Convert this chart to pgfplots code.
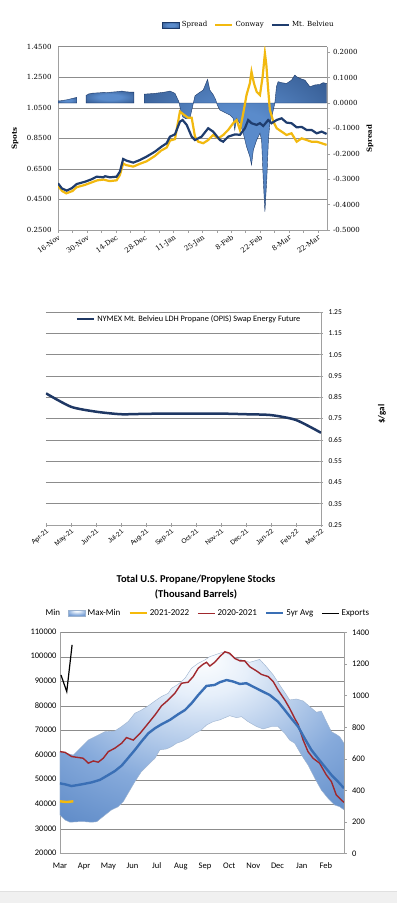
\documentclass[border=0pt]{standalone}
\usepackage{pgfplots}
\pgfplotsset{compat=1.18}
\usepackage{fontspec}
\setmainfont{Carlito}
\newfontfamily\serifchart{DejaVu Serif}
\newfontfamily\labelfont{Liberation Sans}

\definecolor{navy}{HTML}{1F3D6E}
\definecolor{conway}{HTML}{F2B90F}
\definecolor{spreaddark}{HTML}{1C3A6A}
\definecolor{spreadlight}{HTML}{5A8BCB}
\definecolor{gridgray}{HTML}{8C8C8C}
\definecolor{axisgray}{HTML}{A0A0A0}
\definecolor{futnavy}{HTML}{1F3864}
\definecolor{bandedge}{HTML}{9DB3CF}
\definecolor{bandlight}{HTML}{E6EFFA}
\definecolor{bandmid}{HTML}{86AADB}
\definecolor{banddark}{HTML}{3F72B8}
\definecolor{redline}{HTML}{A0282D}
\definecolor{avgblue}{HTML}{3A6FB5}
\definecolor{yellowline}{HTML}{F5BA0A}

\pgfdeclareradialshading{bandshading}{\pgfpoint{0bp}{24bp}}{color(0bp)=(white); color(8bp)=(bandlight); color(26bp)=(bandmid); color(50bp)=(banddark)}
\pgfdeclareradialshading{spreadshading}{\pgfpoint{0bp}{0bp}}{color(0bp)=(spreadlight); color(12bp)=(spreadlight); color(50bp)=(spreaddark)}

\pgfplotsset{
  topbase/.style={
    at={(58pt,673pt)}, anchor=south west, scale only axis,
    width=269pt, height=183.3pt, xmin=0, xmax=130.4,
    font=\serifchart\fontsize{7}{8}\selectfont,
    /pgf/number format/assume math mode=true,
  },
  botbase/.style={
    at={(60pt,49.3pt)}, anchor=south west, scale only axis,
    width=284pt, height=221.4pt, xmin=0, xmax=11.75,
    font=\fontsize{8.5}{10}\selectfont,
    /pgf/number format/assume math mode=true,
  },
}

\begin{document}
\begin{tikzpicture}[x=1pt,y=1pt]
\path[use as bounding box] (0,0) rectangle (397,903);
\fill[white] (0,0) rectangle (397,903);
\fill[black!6] (0,0) rectangle (397,11.3);
\draw[black!12,line width=0.5pt] (0,11.3) -- (397,11.3);

% ================= TOP CHART =================
\begin{axis}[topbase,
  ymin=0.25, ymax=1.45,
  ytick={0.25,0.45,0.65,0.85,1.05,1.25,1.45},
  yticklabel style={/pgf/number format/.cd,fixed,fixed zerofill,precision=4},
  ymajorgrids, grid style={gridgray,line width=0.5pt},
  axis x line*=bottom, axis y line*=left,
  axis line style={axisgray,line width=0.6pt},
  xtick={0,14,...,126},
  xticklabels={16-Nov,30-Nov,14-Dec,28-Dec,11-Jan,25-Jan,8-Feb,22-Feb,8-Mar,22-Mar},
  minor xtick={7,21,...,119},
  x tick label style={rotate=35,anchor=north east,inner sep=1pt},
  tick style={axisgray,line width=0.5pt}, tick align=outside,
  major tick length=3pt, minor tick length=3pt,
  ytick style={draw=none},
  ylabel={\bfseries Spots},
  ylabel style={at={(axis description cs:-0.16,0.5)},anchor=center},
]
\end{axis}

\begin{axis}[topbase,
  ymin=-0.5, ymax=0.2217,
  ytick={-0.5,-0.4,-0.3,-0.2,-0.1,0,0.1,0.2},
  yticklabel style={/pgf/number format/.cd,fixed,fixed zerofill,precision=4},
  axis y line*=right, axis x line=none,
  axis line style={axisgray,line width=0.6pt},
  tick style={axisgray,line width=0.5pt}, tick align=outside, major tick length=2.5pt,
  ylabel={\bfseries Spread},
  ylabel style={at={(axis description cs:1.16,0.5)},anchor=center},
]
\addplot[draw=spreaddark, line width=0.4pt, shade, shading=spreadshading, forget plot] coordinates {
(0,0) (0,0.008) (1.5,0.009) (3,0.011) (4.5,0.013) (6,0.016) (7.5,0.019) (9.1,0.022) (9.1,0)} -- cycle;
\addplot[draw=spreaddark, line width=0.4pt, shade, shading=spreadshading, forget plot] coordinates {
(13.6,0) (13.6,0.030) (15,0.036) (17,0.039) (20,0.040) (22,0.042) (24,0.041) (26,0.043) (28,0.044)
(30,0.046) (31,0.047) (33,0.044) (35,0.043) (36.8,0.043) (36.8,0)} -- cycle;
\addplot[draw=spreaddark, line width=0.4pt, shade, shading=spreadshading, forget plot] coordinates {
(41.8,0) (41.8,0.035) (44,0.036) (47,0.038) (50,0.041) (51.8,0.043) (54.3,0.047) (56.7,0.038)
(58.6,0.005) (59.5,-0.03) (60.5,-0.055) (62,-0.062) (63.95,-0.060) (65.6,-0.001) (66.4,0.028)
(68,0.038) (70.4,0.051) (71.7,0.077) (72.5,0.093) (73.6,0.051) (75.3,0.032) (76.5,0.012)
(77.2,-0.008) (78.5,-0.028) (80.1,-0.034) (81.7,-0.041) (83.3,-0.047) (84.9,-0.060) (85.7,-0.106)
(86.5,-0.060) (88.2,-0.080) (89.8,-0.119) (91.4,-0.172) (93,-0.211) (93.8,-0.244) (94.7,-0.185)
(96.3,-0.146) (97.9,-0.119) (98.7,-0.146) (99.5,-0.303) (100.3,-0.428) (101.2,-0.303) (102,-0.146)
(102.7,-0.080) (104,-0.041) (105.1,-0.001) (105.9,0.064) (106.7,0.084) (108.4,0.080) (110.8,0.077)
(113.2,0.090) (114.8,0.110) (115.6,0.104) (117.2,0.097) (119.7,0.090) (122.1,0.064) (124.5,0.071)
(126.9,0.073) (128.5,0.080) (130.2,0.077) (130.2,0)} -- cycle;
\end{axis}

\begin{axis}[topbase, ymin=0.25, ymax=1.45, hide axis,
  legend style={at={(axis description cs:0.71,1.118)}, anchor=center, draw=none, fill=none,
    legend columns=3, font=\serifchart\fontsize{7}{8}\selectfont,
    /tikz/every even column/.append style={column sep=5pt}},
]
\addlegendimage{area legend, draw=spreaddark, shade, shading=spreadshading}
\addlegendentry{Spread}
\addplot[conway, line width=2.2pt] coordinates {
(0,0.540) (2,0.505) (4,0.490) (7,0.505) (9,0.530) (13,0.545) (16,0.560) (19,0.575) (22,0.580)
(25,0.570) (28.4,0.575) (30,0.610) (31.6,0.685) (33,0.675) (36.5,0.665) (40,0.685) (43,0.700)
(47,0.735) (50,0.770) (52.7,0.790) (54.3,0.835) (56.7,0.845) (59.1,1.025) (61,1.005) (63,0.985)
(64.8,0.985) (66.4,0.861) (68,0.828) (70.4,0.818) (72.8,0.839) (75.2,0.872) (77.7,0.850) (80.1,0.872)
(82.5,0.905) (84.9,0.949) (86.6,0.970) (88.2,0.905) (89.8,1.014) (91.4,1.134) (93,1.210) (93.8,1.286)
(95,1.21) (96.3,1.155) (97.9,1.134) (99.2,1.254) (100.3,1.407) (101,1.33) (101.9,1.167) (102.7,1.036)
(104.4,0.959) (106,0.916) (108.4,0.894) (110.8,0.872) (113.2,0.883) (115.7,0.828) (118.1,0.850)
(120.5,0.839) (122.9,0.828) (125.4,0.828) (127.8,0.818) (130.2,0.807)};
\addlegendentry{Conway}
\addplot[navy, line width=2.2pt] coordinates {
(0,0.556) (1.8,0.523) (4.2,0.508) (6.6,0.523) (9.1,0.551) (13.1,0.566) (16.3,0.582) (18.7,0.599)
(22,0.595) (22.8,0.602) (25.2,0.595) (28.4,0.599) (30,0.632) (31.6,0.715) (33.2,0.704) (36.5,0.691)
(39.7,0.708) (42.9,0.730) (47,0.763) (50.2,0.796) (52.7,0.818) (54.3,0.861) (56.7,0.876) (59.1,0.959)
(60.4,0.970) (62.4,0.938) (64.8,0.861) (66.4,0.839) (69.6,0.861) (72.8,0.916) (75.2,0.894) (78.5,0.839)
(80.1,0.828) (82.5,0.861) (85.8,0.876) (88.2,0.873) (90.6,0.916) (92.2,0.970) (93.8,0.949) (96.3,0.938)
(97.9,0.949) (99.5,0.931) (101.9,0.970) (103.5,0.949) (106,0.970) (108.4,0.981) (110.8,0.953)
(113.2,0.949) (115.7,0.922) (118.1,0.925) (120.5,0.905) (122.9,0.905) (125.4,0.883) (127.8,0.894)
(130.2,0.879)};
\addlegendentry{Mt. Belvieu}
\end{axis}

% ================= MIDDLE CHART =================
\begin{axis}[at={(46pt,378pt)}, anchor=south west, scale only axis,
  width=275pt, height=213pt,
  xmin=0, xmax=11, ymin=0.25, ymax=1.25,
  font=\fontsize{7.5}{9}\selectfont,
  /pgf/number format/assume math mode=true,
  axis y line*=right, axis x line*=bottom,
  axis line style={axisgray,line width=0.6pt},
  ytick={0.25,0.35,0.45,0.55,0.65,0.75,0.85,0.95,1.05,1.15,1.25},
  yticklabel style={/tikz/xshift=2pt,/pgf/number format/.cd,fixed,fixed zerofill,precision=2},
  ymajorgrids, grid style={gridgray,line width=0.5pt},
  xtick={0,...,11},
  xticklabels={Apr-21,May-21,Jun-21,Jul-21,Aug-21,Sep-21,Oct-21,Nov-21,Dec-21,Jan-22,Feb-22,Mar-22},
  x tick label style={rotate=40,anchor=north east,inner sep=1pt,font=\labelfont\fontsize{6.6}{7.5}\selectfont},
  tick style={axisgray,line width=0.5pt}, tick align=center, major tick length=4pt,
  ylabel={\bfseries \$/gal},
  ylabel style={at={(axis description cs:1.222,0.52)},anchor=center,font=\fontsize{9}{10}\selectfont},
  legend style={at={(axis description cs:0.52,0.966)}, anchor=center, draw=none, fill=none,
    font=\fontsize{8.3}{9}\selectfont},
]
\addplot[futnavy, line width=2.5pt, smooth, tension=0.4] coordinates {
(0,0.868) (1,0.805) (2,0.782) (3,0.770) (4,0.772) (5,0.773) (6,0.773) (7,0.773) (8,0.770) (9,0.766) (10,0.743) (11,0.683)};
\addlegendentry{NYMEX Mt. Belvieu LDH Propane (OPIS) Swap Energy Future}
\end{axis}

% ================= BOTTOM CHART =================
\begin{axis}[botbase,
  ymin=20000, ymax=110000,
  ytick={20000,30000,40000,50000,60000,70000,80000,90000,100000,110000},
  scaled y ticks=false,
  yticklabel style={/pgf/number format/.cd,fixed,1000 sep={}},
  axis y line*=left, axis x line*=bottom,
  axis line style={axisgray,line width=0.6pt},
  ymajorgrids, grid style={gridgray,line width=0.5pt},
  xtick={0,...,11}, xticklabels={Mar,Apr,May,Jun,Jul,Aug,Sep,Oct,Nov,Dec,Jan,Feb},
  typeset ticklabels with strut,
  xtick style={draw=none}, ytick style={draw=none},
  x tick label style={yshift=-4.5pt},
  title={Total U.S. Propane/Propylene Stocks\\(Thousand Barrels)},
  title style={at={(axis description cs:0.479,1.176)}, anchor=center, yshift=0pt, align=center,
    font=\bfseries\fontsize{10.5}{15}\selectfont},
  legend style={at={(axis description cs:0.519,1.086)}, anchor=center, draw=none, fill=none,
    legend columns=6, font=\fontsize{9}{10}\selectfont,
    /tikz/every even column/.append style={column sep=6pt}},
]
\addlegendimage{empty legend}
\addlegendentry{Min}
\addplot[area legend, draw=bandedge, line width=0.4pt, shade, shading=bandshading] coordinates {
(0,61500) (0.55,60100) (0.9,63500) (1.17,66200) (1.45,67600) (1.86,69600) (2.27,69900) (2.55,71700)
(2.82,73700) (3.1,77100) (3.37,78400) (3.65,80100) (3.93,82100) (4.2,83900) (4.48,85200) (4.61,87200)
(4.89,88900) (5.17,91300) (5.44,95400) (5.72,97400) (6.0,98800) (6.2,100100) (6.61,101500) (6.82,102100)
(7.16,100100) (7.51,98800) (7.85,97800) (8.06,98400) (8.26,99000) (8.54,96000) (8.82,92700) (9.09,88600)
(9.37,84500) (9.5,82500) (9.78,82900) (10.06,82100) (10.33,79800) (10.61,77500) (10.81,78000)
(11.02,73700) (11.23,69600) (11.43,68500) (11.57,67600) (11.75,64900)
(11.75,37800) (11.57,39100) (11.36,39800) (11.09,42500) (10.81,45900) (10.54,50700) (10.26,56100)
(9.99,60100) (9.71,64900) (9.5,66200) (9.3,68900) (9.02,71700) (8.75,71700) (8.4,70700) (8.13,71700)
(7.78,73700) (7.51,75700) (7.3,75300) (7.02,76100) (6.61,74400) (6.34,73700) (6.06,72300) (5.85,70300)
(5.58,68900) (5.3,66900) (5.03,65600) (4.82,64900) (4.61,63500) (4.41,62600) (4.13,62200) (3.93,58800)
(3.65,56100) (3.37,53400) (3.1,49300) (2.82,44600) (2.62,41200) (2.41,39100) (2.13,37800) (1.86,35700)
(1.52,33000) (1.31,32800) (1.03,33000) (0.76,33000) (0.41,32800) (0.21,33700) (0,35700)} -- cycle;
\addlegendentry{Max-Min}
\addplot[yellowline, line width=2.4pt] coordinates {(0,41300) (0.28,41000) (0.55,41300)};
\addlegendentry{2021-2022}
\addplot[redline, line width=1.4pt] coordinates {
(0,61500) (0.21,61200) (0.48,59500) (0.76,59100) (0.96,58800) (1.17,56800) (1.38,57700) (1.58,57200)
(1.79,58800) (2.0,61500) (2.27,62900) (2.55,64900) (2.75,67200) (3.03,66200) (3.31,68900) (3.65,73000)
(3.93,76400) (4.2,80100) (4.48,82500) (4.75,85200) (5.03,89300) (5.3,89700) (5.51,92000) (5.72,95400)
(5.92,97000) (6.06,97800) (6.2,96300) (6.4,97800) (6.61,100100) (6.82,102100) (7.02,101500)
(7.23,99400) (7.44,98400) (7.64,98400) (7.85,96000) (8.13,94300) (8.33,92900) (8.61,92000) (8.82,90000)
(9.02,86600) (9.3,82500) (9.5,79100) (9.71,75000) (9.85,72600) (10.06,66200) (10.26,61500)
(10.47,58800) (10.74,56800) (11.02,52000) (11.23,49300) (11.43,43900) (11.64,41800) (11.75,40900)};
\addlegendentry{2020-2021}
\addplot[avgblue, line width=2.4pt] coordinates {
(0,48600) (0.21,48200) (0.48,47500) (0.9,48200) (1.31,49000) (1.65,50000) (2.0,52000) (2.27,53600)
(2.55,55800) (2.75,58100) (3.1,62200) (3.37,65600) (3.65,68900) (3.93,71000) (4.2,72600) (4.55,74400)
(4.89,76700) (5.17,78400) (5.44,81100) (5.72,84500) (6.06,88200) (6.4,88600) (6.61,89700) (6.89,90600)
(7.16,90000) (7.44,89000) (7.71,89300) (7.99,87900) (8.33,86200) (8.68,84500) (9.02,81800) (9.3,78400)
(9.57,75000) (9.85,71700) (10.12,66900) (10.4,62200) (10.67,58800) (10.95,55400) (11.23,52000)
(11.5,49300) (11.75,46600)};
\addlegendentry{5yr Avg}
\addlegendimage{black, line width=1.2pt}
\addlegendentry{Exports}
\end{axis}

\begin{axis}[botbase,
  ymin=0, ymax=1400,
  ytick={0,200,400,600,800,1000,1200,1400},
  yticklabel style={/tikz/xshift=2pt,/pgf/number format/.cd,fixed,1000 sep={}},
  axis y line*=right, axis x line=none,
  axis line style={axisgray,line width=0.6pt},
  tick style={axisgray,line width=0.5pt}, tick align=outside, major tick length=2.5pt,
]
\addplot[black, line width=1.2pt] coordinates {(0.04,1130) (0.28,1025) (0.5,1320)};
\end{axis}
\end{tikzpicture}
\end{document}
